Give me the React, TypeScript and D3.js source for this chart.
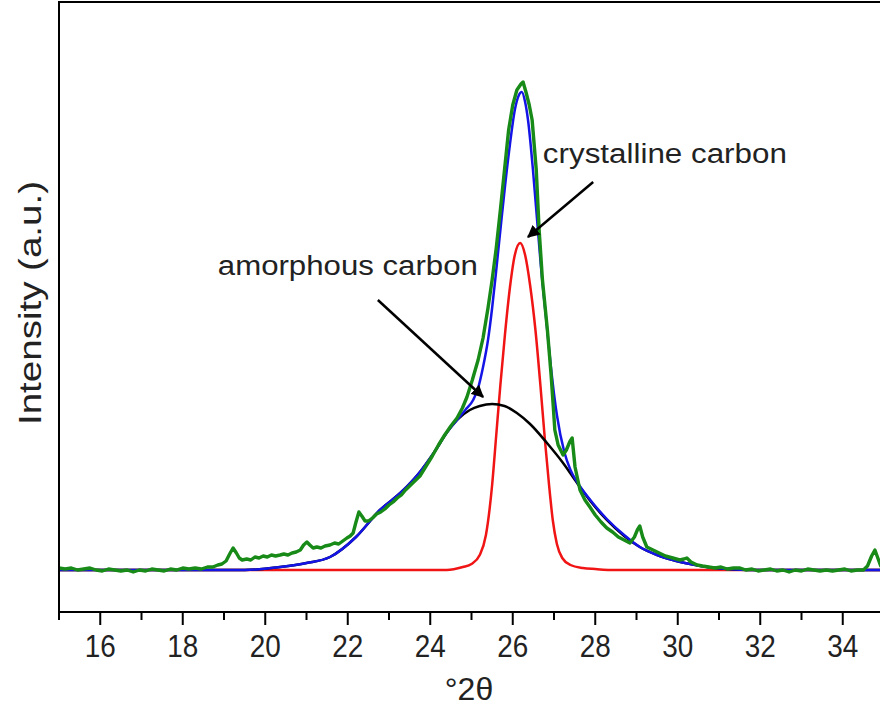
import React from "react";
import * as d3 from "d3";

// ---- data (2θ in degrees, intensity in arbitrary units above the baseline) ----
const xTicksMajor = [16, 18, 20, 22, 24, 26, 28, 30, 32, 34];
const xTicksMinor = [15, 17, 19, 21, 23, 25, 27, 29, 31, 33, 35];

const crystalline: [number, number][] = [
  [15, 0], [24.4, 0], [24.79, 3], [25.0, 6], [25.2, 15], [25.35, 35], [25.5, 85],
  [25.6, 135], [25.7, 185], [25.81, 235], [25.93, 282], [26.05, 315], [26.18, 327],
  [26.3, 315], [26.42, 285], [26.55, 240], [26.67, 185], [26.78, 130], [26.88, 85],
  [26.97, 50], [27.07, 26], [27.2, 12], [27.4, 5], [27.7, 2], [28.0, 1], [28.5, 0],
  [35, 0],
];

const amorphous: [number, number][] = [
  [15, 0], [19.5, 0], [20.36, 3], [21, 7], [21.57, 13], [22.2, 33], [22.78, 60],
  [23.3, 78], [23.75, 98], [24.1, 118], [24.41, 138], [24.65, 150], [24.96, 160],
  [25.2, 164], [25.5, 166], [25.8, 164], [26.1, 157], [26.42, 146], [26.83, 127],
  [27.22, 107], [27.56, 87], [27.9, 68], [28.28, 50], [28.7, 34], [29.08, 23],
  [29.5, 15], [29.88, 10], [30.3, 6], [30.71, 3], [31.2, 1], [31.8, 0], [35, 0],
];

const fitted: [number, number][] = [
  [15, 0], [19.5, 0], [20.36, 3], [21, 7], [21.57, 13], [22.2, 33], [22.78, 60],
  [23.3, 78], [23.75, 98], [24.1, 118], [24.41, 138], [24.65, 150], [24.85, 160],
  [25.04, 170], [25.16, 182], [25.28, 203], [25.4, 230], [25.5, 262], [25.6, 300],
  [25.7, 340], [25.81, 383], [25.93, 425], [26.05, 460], [26.15, 475], [26.22, 478],
  [26.3, 468], [26.37, 450], [26.49, 400], [26.59, 350], [26.68, 305], [26.8, 255],
  [26.92, 205], [27.07, 155], [27.25, 118], [27.4, 100], [27.56, 88], [27.9, 69],
  [28.28, 51], [28.7, 35], [29.08, 23], [29.5, 15], [29.88, 10], [30.3, 6],
  [30.71, 3], [31.2, 1], [31.8, 0], [35, 0],
];

const measured: [number, number][] = [
  [15.0, 2], [15.15, 1], [15.3, 2], [15.45, 0], [15.6, 1], [15.75, 2], [15.9, 0],
  [16.05, -1], [16.2, 1], [16.35, 0], [16.5, -1], [16.65, 0], [16.8, -2], [16.95, 0],
  [17.1, -1], [17.25, 1], [17.4, 0], [17.55, -1], [17.7, 1], [17.85, 0], [18.0, 2],
  [18.15, 1], [18.3, 2], [18.45, 1], [18.6, 3], [18.73, 3], [18.85, 5], [18.95, 6],
  [19.05, 9], [19.15, 17], [19.22, 22], [19.3, 17], [19.37, 12], [19.44, 10],
  [19.55, 11], [19.65, 10], [19.75, 13], [19.85, 12], [19.95, 14], [20.05, 13],
  [20.15, 15], [20.25, 14], [20.36, 15], [20.45, 16], [20.55, 15], [20.65, 17],
  [20.75, 18], [20.85, 20], [20.93, 25], [21.01, 28], [21.08, 25], [21.16, 22],
  [21.25, 23], [21.35, 22], [21.45, 24], [21.57, 25], [21.68, 27], [21.78, 26],
  [21.88, 29], [21.98, 32], [22.06, 34], [22.13, 37], [22.2, 48], [22.27, 58],
  [22.34, 54], [22.42, 49], [22.5, 49], [22.6, 52], [22.7, 56], [22.8, 58],
  [22.9, 61], [23.0, 65], [23.1, 68], [23.2, 72], [23.3, 75], [23.4, 80], [23.5, 84],
  [23.6, 88], [23.75, 94], [23.9, 104], [24.05, 114], [24.2, 125], [24.35, 135],
  [24.5, 144], [24.65, 152], [24.78, 162], [24.89, 173], [25.02, 190], [25.16, 210],
  [25.28, 232], [25.4, 262], [25.5, 290], [25.6, 322], [25.7, 360], [25.8, 400],
  [25.9, 440], [26.0, 465], [26.1, 480], [26.2, 486], [26.25, 488], [26.32, 478],
  [26.4, 465], [26.47, 450], [26.57, 400], [26.64, 340], [26.72, 290], [26.84, 240],
  [26.93, 195], [26.98, 165], [27.02, 140], [27.1, 125], [27.22, 115], [27.3, 120],
  [27.38, 128], [27.44, 132], [27.51, 103], [27.63, 80], [27.75, 70], [27.87, 63],
  [28.0, 55], [28.14, 48], [28.28, 42], [28.42, 38], [28.56, 33], [28.7, 30],
  [28.84, 27], [28.95, 33], [29.02, 40], [29.08, 44], [29.15, 33], [29.25, 23],
  [29.4, 20], [29.55, 17], [29.7, 14], [29.88, 12], [30.05, 10], [30.15, 11],
  [30.22, 12], [30.32, 8], [30.47, 5], [30.6, 4], [30.75, 3], [30.9, 2], [31.05, 3],
  [31.2, 1], [31.35, 2], [31.51, 2], [31.65, 0], [31.8, 1], [31.95, -1], [32.1, 0],
  [32.25, 1], [32.4, -1], [32.55, 0], [32.7, -2], [32.85, 0], [33.0, -1], [33.15, 1],
  [33.3, 0], [33.45, -1], [33.6, 0], [33.75, -1], [33.9, 0], [34.05, 1], [34.2, -1],
  [34.35, 0], [34.5, 0], [34.6, 4], [34.7, 14], [34.78, 20], [34.85, 12], [34.92, 4],
  [35.0, 2],
];

// annotations: [label x, label y, arrow start x, arrow start y, arrow tip x, arrow tip y]
const annotationLabels = ["amorphous carbon", "crystalline carbon"];
const annotationPoints: number[][] = [
  [18.85, 295, 22.73, 270, 25.28, 173],
  [26.73, 407, 27.95, 388, 26.37, 333],
];
const annotationWidths = [260, 244];

const W = 880;
const H = 711;
const FONT = "'Liberation Sans', Arial, Helvetica, sans-serif";

export default function App() {
  const x = d3.scaleLinear().domain([15, 35]).range([59, 884]);
  const y = d3.scaleLinear().domain([-42, 568]).range([612, 2]);

  const smooth = d3
    .line<[number, number]>()
    .x((d) => x(d[0]))
    .y((d) => y(d[1]))
    .curve(d3.curveMonotoneX);
  const raw = d3
    .line<[number, number]>()
    .x((d) => x(d[0]))
    .y((d) => y(d[1]))
    .curve(d3.curveLinear);

  const x0 = x(15);
  const yAxis = y(-42);

  return (
    <svg
      width={W}
      height={H}
      style={{ position: "absolute", left: 0, top: 0, background: "#fff" }}
      fontFamily={FONT}
    >
      <defs>
        <marker
          id="ah"
          viewBox="0 0 10 10"
          refX="9"
          refY="5"
          markerWidth="5"
          markerHeight="5"
          orient="auto"
          markerUnits="strokeWidth"
        >
          <path d="M0,0 L10,5 L0,10 z" fill="#000" />
        </marker>
      </defs>
      <rect x={0} y={0} width={W} height={H} fill="#fff" />

      {/* curves */}
      <path d={smooth(crystalline) || ""} fill="none" stroke="#f01414" strokeWidth={2.5} />
      <path d={smooth(amorphous) || ""} fill="none" stroke="#000" strokeWidth={2.5} />
      <path d={smooth(fitted) || ""} fill="none" stroke="#1414e6" strokeWidth={2.5} />
      <path
        d={raw(measured) || ""}
        fill="none"
        stroke="#178a17"
        strokeWidth={3.4}
        strokeLinejoin="round"
      />

      {/* frame */}
      <line x1={x0} y1={2} x2={W} y2={2} stroke="#000" strokeWidth={2} />
      <line x1={x0} y1={1} x2={x0} y2={yAxis + 1} stroke="#000" strokeWidth={2} />
      <line x1={x0 - 1} y1={yAxis} x2={W} y2={yAxis} stroke="#000" strokeWidth={2} />

      {/* ticks */}
      {xTicksMajor.map((t) => (
        <g key={"M" + t}>
          <line x1={x(t)} x2={x(t)} y1={yAxis} y2={yAxis + 13} stroke="#000" strokeWidth={2} />
          <text
            x={x(t)}
            y={657}
            textAnchor="middle"
            fontSize={32}
            textLength={31}
            lengthAdjust="spacingAndGlyphs"
            fill="#222"
          >
            {t}
          </text>
        </g>
      ))}
      {xTicksMinor.map((t) => (
        <line
          key={"m" + t}
          x1={x(t)}
          x2={x(t)}
          y1={yAxis}
          y2={yAxis + 8}
          stroke="#000"
          strokeWidth={2}
        />
      ))}

      {/* axis titles */}
      <text x={469} y={700} textAnchor="middle" fontSize={32} fill="#222">
        °2θ
      </text>
      <text
        transform="translate(41,303) rotate(-90)"
        textAnchor="middle"
        fontSize={32}
        textLength={244}
        lengthAdjust="spacingAndGlyphs"
        fill="#222"
      >
        Intensity (a.u.)
      </text>

      {/* annotations */}
      {annotationPoints.map((p, i) => (
        <g key={"a" + i}>
          <text
            x={x(p[0])}
            y={y(p[1])}
            fontSize={27}
            textLength={annotationWidths[i]}
            lengthAdjust="spacingAndGlyphs"
            fill="#222"
          >
            {annotationLabels[i]}
          </text>
          <line
            x1={x(p[2])}
            y1={y(p[3])}
            x2={x(p[4])}
            y2={y(p[5])}
            stroke="#000"
            strokeWidth={2.5}
            markerEnd="url(#ah)"
          />
        </g>
      ))}
    </svg>
  );
}
